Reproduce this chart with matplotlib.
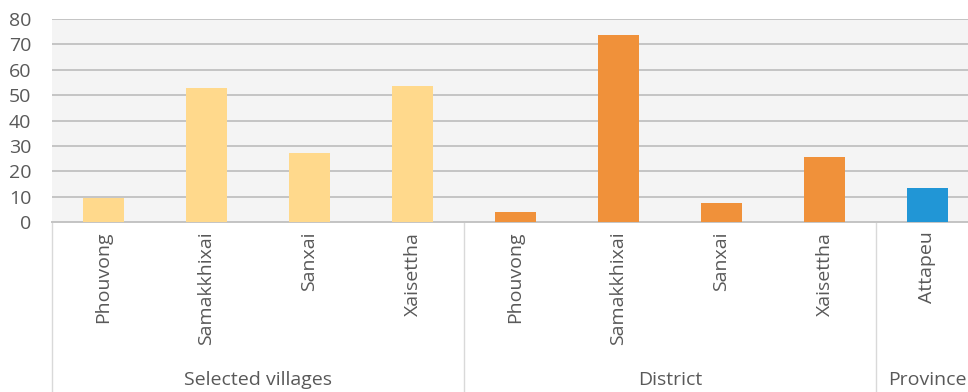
import matplotlib
matplotlib.use("Agg")
import matplotlib.pyplot as plt
import matplotlib.transforms as mtransforms

categories = ["Phouvong", "Samakkhixai", "Sanxai", "Xaisettha",
              "Phouvong", "Samakkhixai", "Sanxai", "Xaisettha", "Attapeu"]
values = [9.5, 53, 27, 53.5, 4, 73.5, 7.5, 25.5, 13.5]
groups = ["Selected villages", "District", "Province"]
group_sizes = [4, 4, 1]
group_colors = ["#FFD98C", "#F0913A", "#2196D6"]
yticks = [0, 10, 20, 30, 40, 50, 60, 70, 80]

plt.rcParams['font.family'] = ['Open Sans', 'DejaVu Sans']
text_color = "#595959"

W, H = 968, 392
fig = plt.figure(figsize=(W / 100, H / 100), dpi=100)
fig.patch.set_facecolor("white")
left_px, bottom_px, top_px = 52, 222, 19
ax = fig.add_axes([left_px / W, 1 - bottom_px / H, (W - left_px) / W, (bottom_px - top_px) / H])
ax.set_facecolor("#F4F4F4")

colors = []
for size, c in zip(group_sizes, group_colors):
    colors += [c] * size
x = list(range(len(categories)))
ax.bar(x, values, width=0.39, color=colors, zorder=3)

ax.set_ylim(0, 80)
ax.set_yticks(yticks)
ax.set_yticklabels([str(t) for t in yticks], fontsize=14, color=text_color)
ax.yaxis.grid(True, color="#C4C4C4", linewidth=1.4, zorder=0)
ax.tick_params(axis="y", length=0, pad=15)
ax.tick_params(axis="x", length=0, pad=7)

ax.set_xlim(-0.5, -0.5 + (W - left_px) / 103.0)
ax.set_xticks(x)
ax.set_xticklabels(categories, rotation=90, fontsize=14, color=text_color, va="top")

for s in ["top", "right", "left"]:
    ax.spines[s].set_visible(False)
ax.spines["bottom"].set_color("#C4C4C4")
ax.spines["bottom"].set_linewidth(1.4)

trans = mtransforms.blended_transform_factory(ax.transData, ax.transAxes)
axes_h_px = bottom_px - top_px
y_bottom = -(H - bottom_px) / axes_h_px
start = 0
bounds = [-0.5]
for size in group_sizes:
    start += size
    bounds.append(start - 0.5)
for b in bounds:
    ax.plot([b, b], [0, y_bottom], transform=trans, color="#D9D9D9", linewidth=1.0, clip_on=False)

label_y = -(380 - bottom_px) / axes_h_px
start = 0
for g, size in zip(groups, group_sizes):
    cx = start + (size - 1) / 2.0
    ax.text(cx, label_y, g, transform=trans, ha="center", va="center",
            fontsize=14, color=text_color, clip_on=False)
    start += size

fig.savefig("out.png", dpi=100, facecolor="white")
